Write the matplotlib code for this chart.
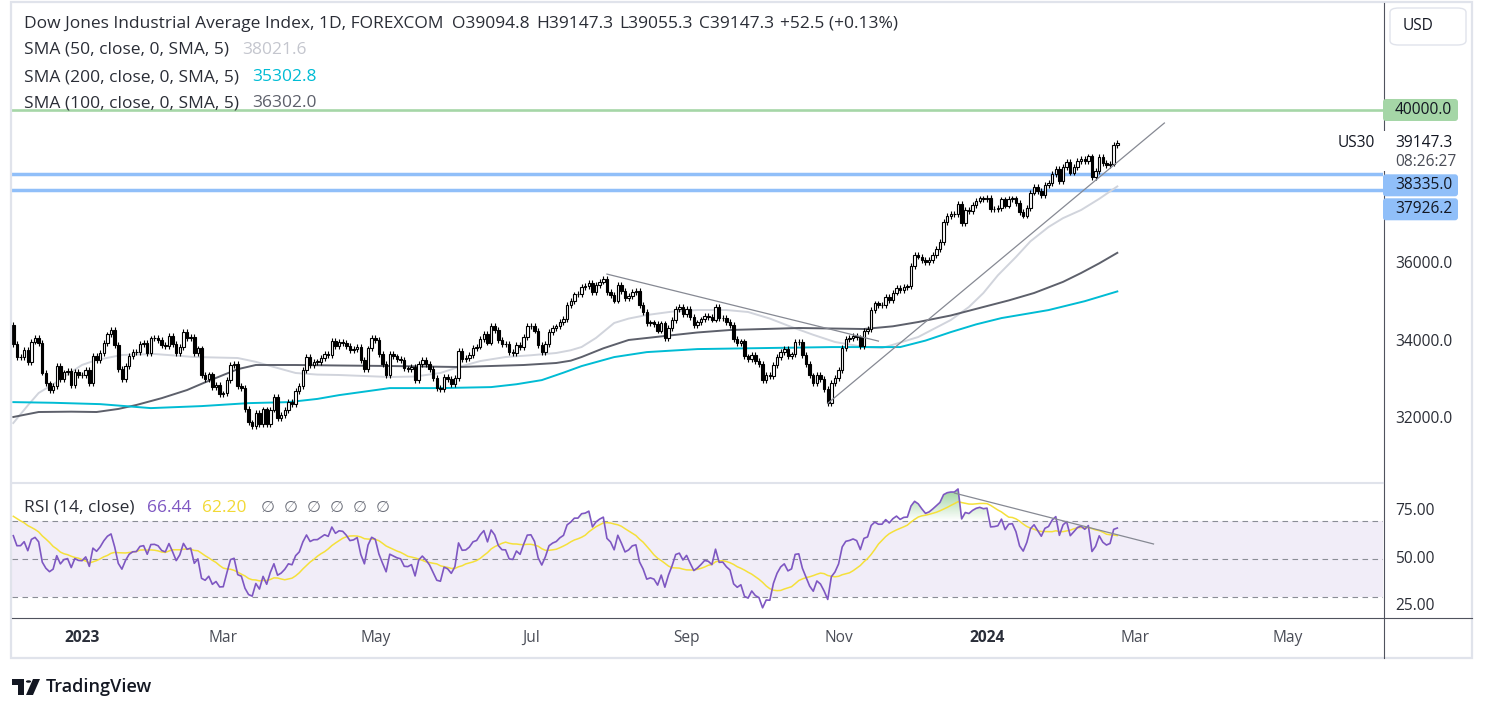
import numpy as np
import pandas as pd
import matplotlib
matplotlib.use("Agg")
import matplotlib.pyplot as plt
from matplotlib.colors import LinearSegmentedColormap
from matplotlib.lines import Line2D
from matplotlib.patches import FancyBboxPatch, PathPatch, Polygon, Circle, Rectangle
from matplotlib.path import Path
from matplotlib.transforms import offset_copy, IdentityTransform

plt.rcParams['font.family'] = ['Open Sans', 'DejaVu Sans']

# ---------------- data ----------------
holidays = ['2022-12-26', '2023-01-02', '2023-01-16', '2023-02-20', '2023-04-07', '2023-05-29',
            '2023-06-19', '2023-07-04', '2023-09-04', '2023-11-23', '2023-12-25', '2024-01-01',
            '2024-01-15', '2024-02-19', '2024-03-29', '2024-05-27']

# closes before the first visible bar (only used to warm up the RSI)
closes_warmup = [30333.6, 31082.6, 31499.6, 31836.7, 31839.1, 32033.3, 32861.8, 32733.0,
                 32653.2, 32147.8, 32001.3, 32403.2, 32827.0, 33160.8, 32513.9, 33715.4,
                 33747.9, 33536.7, 33592.9, 33553.8, 33546.3, 33745.7, 33700.3, 34098.1,
                 34194.1, 34347.0, 33849.5, 33852.5, 34589.8, 34395.0, 34429.9]

closes_2022_12 = [33947.1, 33596.3, 33597.9, 33781.5, 33476.5, 34005.0, 34108.6, 33966.4, 33202.2, 32920.5,
                  32757.5, 32849.7, 33376.5, 33027.5, 33203.9, 33241.6, 32875.7, 33220.8, 33147.3]
closes_2023_01 = [33136.4, 33269.8, 32930.1, 33630.6, 33517.7, 33704.1, 33973.0, 34190.0, 34302.6, 33910.9,
                  33297.0, 33044.6, 33375.5, 33629.6, 33734.0, 33743.8, 33949.4, 33978.1, 33717.1, 34086.0]
closes_2023_02 = [34093.0, 34053.9, 33926.0, 33891.0, 34156.7, 33949.0, 33699.9, 33869.3, 34245.9, 34089.3,
                  34128.1, 33696.9, 33826.7, 33129.6, 33045.1, 33153.9, 32816.9, 32889.1, 32656.7]
closes_2023_03 = [32661.8, 33003.6, 33391.0, 33431.4, 32856.5, 32798.4, 32254.9, 31909.6, 31819.1, 32155.4,
                  31874.6, 32246.6, 31862.0, 32244.6, 32560.6, 32030.1, 32105.3, 32237.5, 32432.1, 32394.3,
                  32717.6, 32859.0, 33274.2]
closes_2023_04 = [33601.2, 33402.4, 33482.7, 33485.3, 33586.5, 33684.8, 33646.5, 34029.7, 33886.5, 33987.2,
                  33976.6, 33897.0, 33786.6, 33809.0, 33875.4, 33530.8, 33301.9, 33826.2, 34098.2]
closes_2023_05 = [34051.7, 33684.5, 33414.2, 33127.7, 33674.4, 33618.7, 33561.8, 33531.3, 33309.5, 33300.6,
                  33348.6, 33012.1, 33420.8, 33535.9, 33426.6, 33286.6, 33055.5, 32799.9, 32764.7, 33093.3,
                  33042.8, 32908.3]
closes_2023_06 = [33061.6, 33762.8, 33562.9, 33573.3, 33665.0, 33833.6, 33876.8, 34066.3, 34212.1, 33979.3,
                  34408.1, 34299.1, 34053.9, 33951.5, 33946.7, 33727.4, 33714.7, 33926.7, 33852.7, 34122.4,
                  34407.6]
closes_2023_07 = [34418.5, 34288.6, 33922.3, 33734.9, 33944.4, 34261.4, 34347.4, 34395.1, 34509.0, 34585.4,
                  34951.9, 35061.2, 35225.2, 35227.7, 35411.2, 35438.1, 35520.1, 35282.5, 35459.3, 35559.5]
closes_2023_08 = [35630.7, 35282.7, 35215.9, 35065.6, 35473.1, 35314.5, 35123.4, 35176.2, 35281.4, 35307.6,
                  34946.4, 34765.7, 34474.8, 34500.7, 34463.7, 34288.8, 34473.0, 34099.4, 34346.9, 34560.0,
                  34852.7, 34890.2, 34721.9]
closes_2023_09 = [34837.7, 34642.0, 34443.2, 34500.7, 34576.6, 34663.7, 34646.0, 34575.5, 34907.1, 34618.2,
                  34624.3, 34517.7, 34440.9, 34070.4, 33963.8, 34006.9, 33618.9, 33550.3, 33666.3, 33507.5]
closes_2023_10 = [33433.4, 33002.4, 33129.6, 33119.6, 33407.6, 33604.7, 33739.3, 33804.9, 33631.1, 33670.3,
                  33984.5, 33997.7, 33665.1, 33414.2, 33127.3, 32936.4, 33141.4, 33035.9, 32784.3, 32417.6,
                  32929.0, 33052.9]
closes_2023_11 = [33274.6, 33839.1, 34061.3, 34095.9, 34152.6, 34112.3, 33891.9, 34283.1, 34337.9, 34827.7,
                  34991.2, 34945.5, 34947.3, 35151.0, 35088.3, 35273.0, 35390.2, 35333.5, 35417.0, 35430.4,
                  35950.9]
closes_2023_12 = [36245.5, 36204.4, 36124.6, 36054.4, 36117.4, 36247.9, 36404.9, 36577.9, 37090.2, 37248.4,
                  37305.2, 37306.0, 37557.9, 37082.0, 37404.4, 37386.0, 37545.3, 37656.5, 37710.1, 37689.5]
closes_2024_01 = [37715.0, 37430.2, 37440.3, 37466.1, 37683.0, 37525.2, 37695.7, 37711.0, 37593.0, 37361.1,
                  37266.7, 37468.6, 37863.8, 38001.8, 37905.5, 37806.4, 38049.1, 38109.4, 38333.5, 38467.3,
                  38150.3]
closes_2024_02 = [38519.8, 38654.4, 38380.1, 38521.4, 38677.4, 38726.3, 38671.7, 38797.4, 38272.8, 38424.3,
                  38773.1, 38628.0, 38563.8, 38612.2, 39094.8, 39147.3]

closes = (closes_2022_12 + closes_2023_01 + closes_2023_02 + closes_2023_03 + closes_2023_04 +
          closes_2023_05 + closes_2023_06 + closes_2023_07 + closes_2023_08 + closes_2023_09 +
          closes_2023_10 + closes_2023_11 + closes_2023_12 + closes_2024_01 + closes_2024_02)

# moving averages
sma50_dates = ['2022-12-05', '2022-12-09', '2022-12-14', '2022-12-21', '2022-12-28', '2023-01-03',
               '2023-01-09', '2023-01-19', '2023-02-01', '2023-02-16', '2023-03-07', '2023-03-14',
               '2023-03-21', '2023-03-29', '2023-04-06', '2023-04-17', '2023-05-05', '2023-05-16',
               '2023-05-25', '2023-06-02', '2023-06-12', '2023-06-22', '2023-07-03', '2023-07-13',
               '2023-07-19', '2023-07-24', '2023-07-28', '2023-08-04', '2023-08-10', '2023-08-17',
               '2023-08-28', '2023-09-07', '2023-09-19', '2023-09-27', '2023-10-05', '2023-10-13',
               '2023-10-23', '2023-10-31', '2023-11-10', '2023-11-17', '2023-11-24', '2023-12-04',
               '2023-12-15', '2023-12-22', '2023-12-29', '2024-01-05', '2024-01-12', '2024-01-19',
               '2024-01-26', '2024-02-01', '2024-02-08', '2024-02-15', '2024-02-23']
sma50_vals = [31896, 32350, 32673, 32958, 33217, 33400, 33528, 33657, 33683, 33605, 33579, 33480,
              33346, 33191, 33150, 33139, 33087, 33100, 33191, 33346, 33500, 33605, 33650, 33709,
              33780, 33864, 34100, 34486, 34600, 34692, 34780, 34822, 34822, 34770, 34600, 34382,
              34180, 33994, 33864, 33838, 33950, 34123, 34563, 34900, 35262, 35720, 36194, 36600,
              36971, 37200, 37411, 37700, 38021.6]

sma100_dates = ['2022-12-05', '2022-12-14', '2022-12-28', '2023-01-09', '2023-01-18', '2023-01-25',
                '2023-02-03', '2023-02-14', '2023-02-22', '2023-03-01', '2023-03-07', '2023-03-14',
                '2023-03-29', '2023-04-17', '2023-05-05', '2023-06-02', '2023-06-29', '2023-07-13',
                '2023-07-19', '2023-07-24', '2023-08-01', '2023-08-10', '2023-08-24', '2023-09-07',
                '2023-09-20', '2023-10-17', '2023-11-10', '2023-11-22', '2023-12-04', '2023-12-15',
                '2023-12-29', '2024-01-10', '2024-01-22', '2024-02-01', '2024-02-08', '2024-02-15',
                '2024-02-23']
sma100_vals = [32052, 32181, 32190, 32181, 32260, 32363, 32540, 32750, 32950, 33139, 33290, 33398,
               33398, 33385, 33372, 33346, 33398, 33450, 33510, 33605, 33830, 34046, 34149, 34240,
               34304, 34356, 34330, 34400, 34511, 34680, 34900, 35070, 35262, 35550, 35780, 36030,
               36302.0]

sma200_dates = ['2022-12-05', '2022-12-20', '2023-01-10', '2023-01-31', '2023-02-21', '2023-03-10',
                '2023-03-27', '2023-04-06', '2023-04-17', '2023-05-05', '2023-05-25', '2023-06-15',
                '2023-06-27', '2023-07-07', '2023-07-17', '2023-07-24', '2023-08-04', '2023-08-17',
                '2023-09-07', '2023-10-03', '2023-10-30', '2023-11-27', '2023-12-06', '2023-12-15',
                '2023-12-27', '2024-01-08', '2024-01-26', '2024-02-09', '2024-02-23']
sma200_vals = [32437, 32420, 32385, 32282, 32334, 32411, 32437, 32520, 32618, 32800, 32800, 32826,
               32900, 33007, 33200, 33370, 33603, 33732, 33810, 33836, 33862, 33862, 34030, 34250,
               34450, 34613, 34820, 35050, 35302.8]

levels_green = [40000.0]
levels_blue = [38335.0, 37926.2]

trend_down = (['2023-08-02', '2023-11-16'], [35752, 34017])
trend_up = (['2023-10-27', '2024-03-13'], [32406, 39663])
rsi_trend = (['2023-12-18', '2024-03-08'], [84.7, 57.9])

price_ticks = [36000, 34000, 32000]
rsi_ticks = [75, 50, 25]
month_labels = [('2023-01', '2023'), ('2023-03', 'Mar'), ('2023-05', 'May'), ('2023-07', 'Jul'),
                ('2023-09', 'Sep'), ('2023-11', 'Nov'), ('2024-01', '2024'), ('2024-03', 'Mar'),
                ('2024-05', 'May')]

title = "Dow Jones Industrial Average Index, 1D, FOREXCOM"
ohlc = ["O39094.8", "H39147.3", "L39055.3", "C39147.3", "+52.5 (+0.13%)"]
rsi_last, rsi_ma_last = "66.44", "62.20"
last_price, countdown = "39147.3", "08:26:27"

# ---------------- derived ----------------
days = pd.bdate_range('2022-12-05', '2024-06-28', freq='C', holidays=holidays)
assert len(closes) == 306
xb = np.arange(len(closes))
c = np.array(closes)
o = np.array([closes_warmup[-1]] + closes[:-1])


def bar_of(dates):
    return days.get_indexer(pd.to_datetime(dates))


# RSI(14) Wilder + SMA(14) of RSI
allc = np.array(closes_warmup + closes)
chg = np.diff(allc)
gain = np.where(chg > 0, chg, 0.0)
loss = np.where(chg < 0, -chg, 0.0)
ag = np.full(len(chg), np.nan)
al = np.full(len(chg), np.nan)
ag[13] = gain[:14].mean()
al[13] = loss[:14].mean()
for i in range(14, len(chg)):
    ag[i] = (ag[i - 1] * 13 + gain[i]) / 14
    al[i] = (al[i - 1] * 13 + loss[i]) / 14
rsi_all = 100 - 100 / (1 + ag / al)
rsi_ma_all = pd.Series(rsi_all).rolling(14).mean().to_numpy()
k = len(closes_warmup) - 1
rsi = rsi_all[k:]
rsi_ma = rsi_ma_all[k:]

# ---------------- figure ----------------
W, H = 1488, 712
fig = plt.figure(figsize=(W / 100, H / 100), dpi=100)
fig.patch.set_facecolor('white')
TXT = '#2A2D36'


def frac(x0, y0, x1, y1):
    return [x0 / W, 1 - y1 / H, (x1 - x0) / W, (y1 - y0) / H]


ax = fig.add_axes(frac(12, 3, 1383, 482))
ax_rsi = fig.add_axes(frac(12, 483, 1383, 617))
for a in (ax, ax_rsi):
    a.set_facecolor('none')
    for s in a.spines.values():
        s.set_visible(False)
    a.set_xticks([])
    a.set_yticks([])
XL = (-0.36, 378.4)
YL = (30369, 42770)
RL = (19.47, 90.0)

# horizontal levels
for v in levels_green:
    ax.axhline(v, color='#A5D6A7', lw=1.9, zorder=2)
for v in levels_blue:
    ax.axhline(v, color='#90BFF9', lw=2.5, zorder=2)

# moving averages
ax.plot(bar_of(sma50_dates), sma50_vals, color='#D1D4DC', lw=1.4, zorder=3)
ax.plot(bar_of(sma100_dates), sma100_vals, color='#5D606B', lw=1.4, zorder=3)
ax.plot(bar_of(sma200_dates), sma200_vals, color='#00BCD4', lw=1.4, zorder=3)

# candles
wick = 75
up = c >= o
blo = np.minimum(o, c)
bhi = np.maximum(o, c)
ax.vlines(xb, blo - wick, bhi + wick, color='black', lw=0.8, zorder=4)
ax.bar(xb, np.maximum(bhi - blo, 6), bottom=blo, width=0.68,
       color=np.where(up, 'white', 'black'), edgecolor='black', linewidth=0.8, zorder=5)

# trend lines
for d, v in (trend_down, trend_up):
    ax.plot(bar_of(d), v, color='#868993', lw=0.9, zorder=6)

ax.set_xlim(*XL)
ax.set_ylim(*YL)

# RSI pane
ax_rsi.axhspan(30, 70, color='#7E57C2', alpha=0.1, lw=0, zorder=1)
for v in (70, 50, 30):
    ax_rsi.axhline(v, color='#8A8D96', lw=0.8, dashes=(5, 4), zorder=2)
ob = ax_rsi.fill_between(xb, 70, rsi, where=rsi > 70, interpolate=True, color='none', lw=0)
clip = PathPatch(Path.make_compound_path(*ob.get_paths()), transform=ax_rsi.transData,
                 fc='none', ec='none')
ax_rsi.add_patch(clip)
gcm = LinearSegmentedColormap.from_list('g', [(0.30, 0.69, 0.31, 0.0), (0.30, 0.69, 0.31, 0.65)])
im = ax_rsi.imshow(np.linspace(0, 1, 200).reshape(-1, 1), extent=(0, len(xb), 70, 90),
                   origin='lower', aspect='auto', cmap=gcm, zorder=2, interpolation='bilinear')
im.set_clip_path(clip)
ax_rsi.plot(xb, rsi_ma, color='#F5E03A', lw=1.1, zorder=3)
ax_rsi.plot(xb, rsi, color='#7E57C2', lw=1.2, zorder=4)
ax_rsi.plot(bar_of(rsi_trend[0]), rsi_trend[1], color='#868993', lw=0.9, zorder=5)
ax_rsi.set_xlim(*XL)
ax_rsi.set_ylim(*RL)

# right scale labels
ptr = offset_copy(ax.get_yaxis_transform(), fig=fig, x=12, y=0, units='dots')
for v in price_ticks:
    ax.text(1, v, f'{v:.1f}', transform=ptr, ha='left', va='center', fontsize=11.2, color=TXT)
rtr = offset_copy(ax_rsi.get_yaxis_transform(), fig=fig, x=12, y=0, units='dots')
for v in rsi_ticks:
    ax_rsi.text(1, v, f'{v:.2f}', transform=rtr, ha='left', va='center', fontsize=11.2, color=TXT)

# time labels
ttr = offset_copy(ax_rsi.get_xaxis_transform(), fig=fig, x=0, y=-21, units='dots')
for m, lab in month_labels:
    b = days.searchsorted(pd.Timestamp(m + '-01'))
    bold = lab.isdigit()
    ax_rsi.text(b, 0, lab, transform=ttr, ha='center', va='center', fontsize=11.2,
                color='#2A2E39' if bold else '#4A4D57', fontweight='bold' if bold else 'normal')


def ypx(v):
    return ax.transData.transform((0, v))[1]


def axis_box(yc, label, fc):
    fig.add_artist(FancyBboxPatch((1383, yc - 11), 75, 22, boxstyle='round,pad=0,rounding_size=3',
                                  fc=fc, ec='none', transform=IdentityTransform(), zorder=5))
    fig.text(1395 / W, yc / H, label, ha='left', va='center', fontsize=11.2, color='#131722', zorder=6)


axis_box(ypx(levels_green[0]), f'{levels_green[0]:.1f}', '#A5D6A7')
top = ypx(levels_blue[0])
axis_box(top - 11, f'{levels_blue[0]:.1f}', '#90BFF9')
axis_box(top - 35, f'{levels_blue[1]:.1f}', '#90BFF9')

# last price label
yl = ypx(float(last_price))
fig.add_artist(Rectangle((1381, yl - 28), 78, 40, fc='white', ec='none',
                         transform=IdentityTransform(), zorder=4))
fig.text(1395 / W, yl / H, last_price, ha='left', va='center', fontsize=11.2, color='#131722', zorder=6)
fig.text(1395 / W, (yl - 19) / H, countdown, ha='left', va='center', fontsize=11.2, color='#4A4D57', zorder=6)
fig.text(1375 / W, yl / H, 'US30', ha='right', va='center', fontsize=11.2, color='#131722', zorder=6)

# frame & separators
fig.add_artist(Rectangle((11 / W, 1 - 658 / H), 1461 / W, 656 / H, fc='none', ec='#E0E3EB', lw=1.6,
                         transform=fig.transFigure, zorder=1))
fig.add_artist(Line2D([12 / W, 1383 / W], [1 - 483 / H] * 2, color='#E0E3EB', lw=1.5, zorder=7))
fig.add_artist(Line2D([12 / W, 1472 / W], [1 - 617.5 / H] * 2, color='#50535E', lw=0.8, zorder=7))
fig.add_artist(Line2D([1383.5 / W] * 2, [1 - 3 / H, 1 - 658 / H], color='#50535E', lw=0.8, zorder=3))

# USD box
fig.add_artist(FancyBboxPatch((1390 / W, 1 - 45 / H), 76 / W, 37 / H,
                              boxstyle='round,pad=0,rounding_size=0.006', fc='white', ec='#E0E3EB',
                              lw=1.0, transform=fig.transFigure, zorder=5))
fig.text(1403 / W, 1 - 26 / H, 'USD', ha='left', va='center', fontsize=11.2, color='#131722', zorder=6)

# legends
renderer = fig.canvas.get_renderer()
LEG = 12.5


def run(x, y, parts, size=LEG):
    for s, col, gap in parts:
        t = fig.text(x / W, 1 - y / H, s, color=col, fontsize=size, ha='left', va='center_baseline')
        x += t.get_window_extent(renderer).width + gap
    return x


run(24, 22, [(title, TXT, 9)] + [(s, TXT, 6) for s in ohlc])
run(24, 48, [("SMA (50, close, 0, SMA, 5)", TXT, 13), (f'{sma50_vals[-1]:.1f}', '#C4C6CE', 0)])
run(24, 75, [("SMA (200, close, 0, SMA, 5)", TXT, 13), (f'{sma200_vals[-1]:.1f}', '#00BCD4', 0)])
run(24, 101, [("SMA (100, close, 0, SMA, 5)", TXT, 13), (f'{sma100_vals[-1]:.1f}', '#5D606B', 0)])
xe = run(24, 506, [("RSI (14, close)", TXT, 12), (rsi_last, '#7E57C2', 11), (rsi_ma_last, '#F2D935', 14)])
for i in range(6):
    fig.text((xe + 23 * i) / W, 1 - 506 / H, '\u2205', color='#6A6D78', fontsize=LEG - 1,
             ha='left', va='center_baseline')

# TradingView logo
LOGO = '#131722'


def fpx(pts):
    return [(x / W, 1 - y / H) for x, y in pts]


fig.add_artist(Polygon(fpx([(12, 679), (24, 679), (24, 695), (18, 695), (18, 684.5), (12, 684.5)]),
                       closed=True, fc=LOGO, ec='none', transform=fig.transFigure))
fig.add_artist(Circle((28.5 / W, 1 - 681.5 / H), 2.6 / W, fc=LOGO, ec='none', transform=fig.transFigure))
fig.add_artist(Polygon(fpx([(33, 679), (40, 679), (33, 695), (26, 695)]), closed=True, fc=LOGO,
                       ec='none', transform=fig.transFigure))
fig.text(46 / W, 1 - 687 / H, 'TradingView', ha='left', va='center', fontsize=13, color=LOGO,
         fontweight='semibold')

fig.savefig('out.png', dpi=100, facecolor='white')
